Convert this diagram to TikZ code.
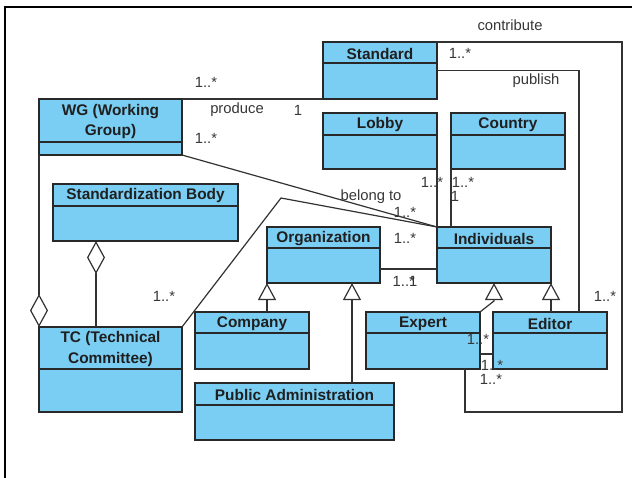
\documentclass[tikz,border=0pt]{standalone}
\usepackage{fontspec}
\setmainfont{Liberation Sans}
\usetikzlibrary{arrows.meta,calc}
\definecolor{clsfill}{RGB}{122,206,244}
\definecolor{clsdraw}{RGB}{40,40,40}
\definecolor{conn}{RGB}{50,50,50}
\definecolor{lbl}{RGB}{55,55,55}
\newcommand\umlbox[7]{%
  \node[cls, minimum width=#4pt, minimum height=#5pt, anchor=north west] (#1) at (#2,#3) {};
  \draw[clsdraw, line width=1.4pt] ($(#1.north west)+(0,#6)$) -- ($(#1.north east)+(0,#6)$);
  \node[hdr] at ($(#1.north)+(0,#6/2+1)$) {#7};
}
\begin{document}
\begin{tikzpicture}[x=1pt,y=-1pt,
  cls/.style={draw=clsdraw, fill=clsfill, line width=1.4pt, inner sep=0pt, outer sep=0pt},
  hdr/.style={font=\fontsize{15.4}{20.5}\selectfont\bfseries, text=black!88, align=center, inner sep=0pt},
  lab/.style={font=\fontsize{14.8}{16}\selectfont, text=lbl, inner sep=0pt},
  con/.style={draw=conn, line width=1.2pt},
  gen/.style={con, -{Triangle[open, length=17pt, width=18pt]}},
  agg/.style={con, -{Diamond[open, length=33pt, width=18pt]}}]
\useasboundingbox (0,0) rectangle (632,477);
\fill[white] (0,0) rectangle (632,477);
\draw[black, line width=2.2pt] (5,480) -- (5,7) -- (640,7);

% classes
\umlbox{std}{323}{42}{114}{57}{21}{Standard}
\umlbox{wg}{39}{99}{143}{56}{43}{WG (Working\\Group)}
\umlbox{lob}{323}{113}{114}{56}{22}{Lobby}
\umlbox{cty}{451}{113}{114}{56}{22}{Country}
\umlbox{sb}{53}{184}{185}{57}{22}{Standardization Body}
\umlbox{org}{267}{227}{113}{56}{21}{Organization}
\umlbox{ind}{437}{227}{114}{56}{21}{Individuals}
\umlbox{com}{195}{312}{114}{57}{21}{Company}
\umlbox{tc}{39}{327}{143}{85}{42}{TC (Technical\\Committee)}
\umlbox{exp}{366}{312}{114}{57}{21}{Expert}
\umlbox{edi}{493}{312}{114}{57}{21}{Editor}
\umlbox{pa}{195}{383}{199}{57}{22}{Public Administration}

% helper coordinates
\coordinate (sbd) at ($(sb.south west)+(43,0)$);
\coordinate (pat) at ($(org.south west)+(85,0)$);
\coordinate (expb) at ($(ind.south)+(0,18)$);
\coordinate (pubx) at ($(edi.north west)+(86,0)$);
\coordinate (cr) at (622,412);
\coordinate (cb) at ($(exp.south west)+(99,0)$);
\coordinate (oi) at ($(org.south east)+(0,-14)$);
\coordinate (ee) at ($(exp.south east)+(0,-15)$);
\coordinate (tcb) at (281,198);

% connectors
\draw[con] (wg.north east) -- (std.south west);
\draw[con] (wg.south east) -- (ind.north west);
\draw[con] (tc.north east) -- (tcb) -- (ind.north west);
\draw[con] (lob.south east) -- (ind.north west);
\draw[con] (cty.south west) -- (cty.south west |- ind.north);
\draw[con] (oi) -- (oi -| ind.west);
\draw[con] (std.east) -| (pubx);
\draw[con] (std.north east) -| (cr) -| (cb);
\draw[con] (ee) -- (ee -| edi.west);
\draw[agg] (sbd |- tc.north) -- (sbd);
\draw[agg] (wg.south west) -- (tc.north west);
\draw[gen] (org.south west |- com.north) -- (org.south west);
\draw[gen] (pat |- pa.north) -- (pat);
\draw[gen] (exp.north east) -- (expb) -- (ind.south);
\draw[gen] (ind.south east |- edi.north) -- (ind.south east);

% labels
\node[lab] (l1) at (510,25) {contribute};
\node[lab] (l2) at (460,53) {1..*};
\node[lab] (l3) at (536,81) {publish};
\node[lab] (l4) at (206,82) {1..*};
\node[lab] (l5) at (237,110) {produce};
\node[lab] (l6) at (298,110) {1};
\node[lab] (l7) at (206,138) {1..*};
\node[lab] (l8) at (371,197) {belong to};
\node[lab] (l9) at (405,212) {1..*};
\node[lab] (l10) at (432,182) {1..*};
\node[lab] (l11) at (463,182) {1..*};
\node[lab] (l12) at (455,196) {1};
\node[lab] (l13) at (405,238) {1..*};
\node[lab] (l14) at (405,281) {1..\rlap{*}1};
\node[lab] (l16) at (164,296) {1..*};
\node[lab] (l17) at (605,296) {1..*};
\node[lab] (l18) at (478,339) {1..*};
\node[lab] (l19) at (492,365) {1..*};
\node[lab] (l20) at (491,379) {1..*};
\end{tikzpicture}
\end{document}
